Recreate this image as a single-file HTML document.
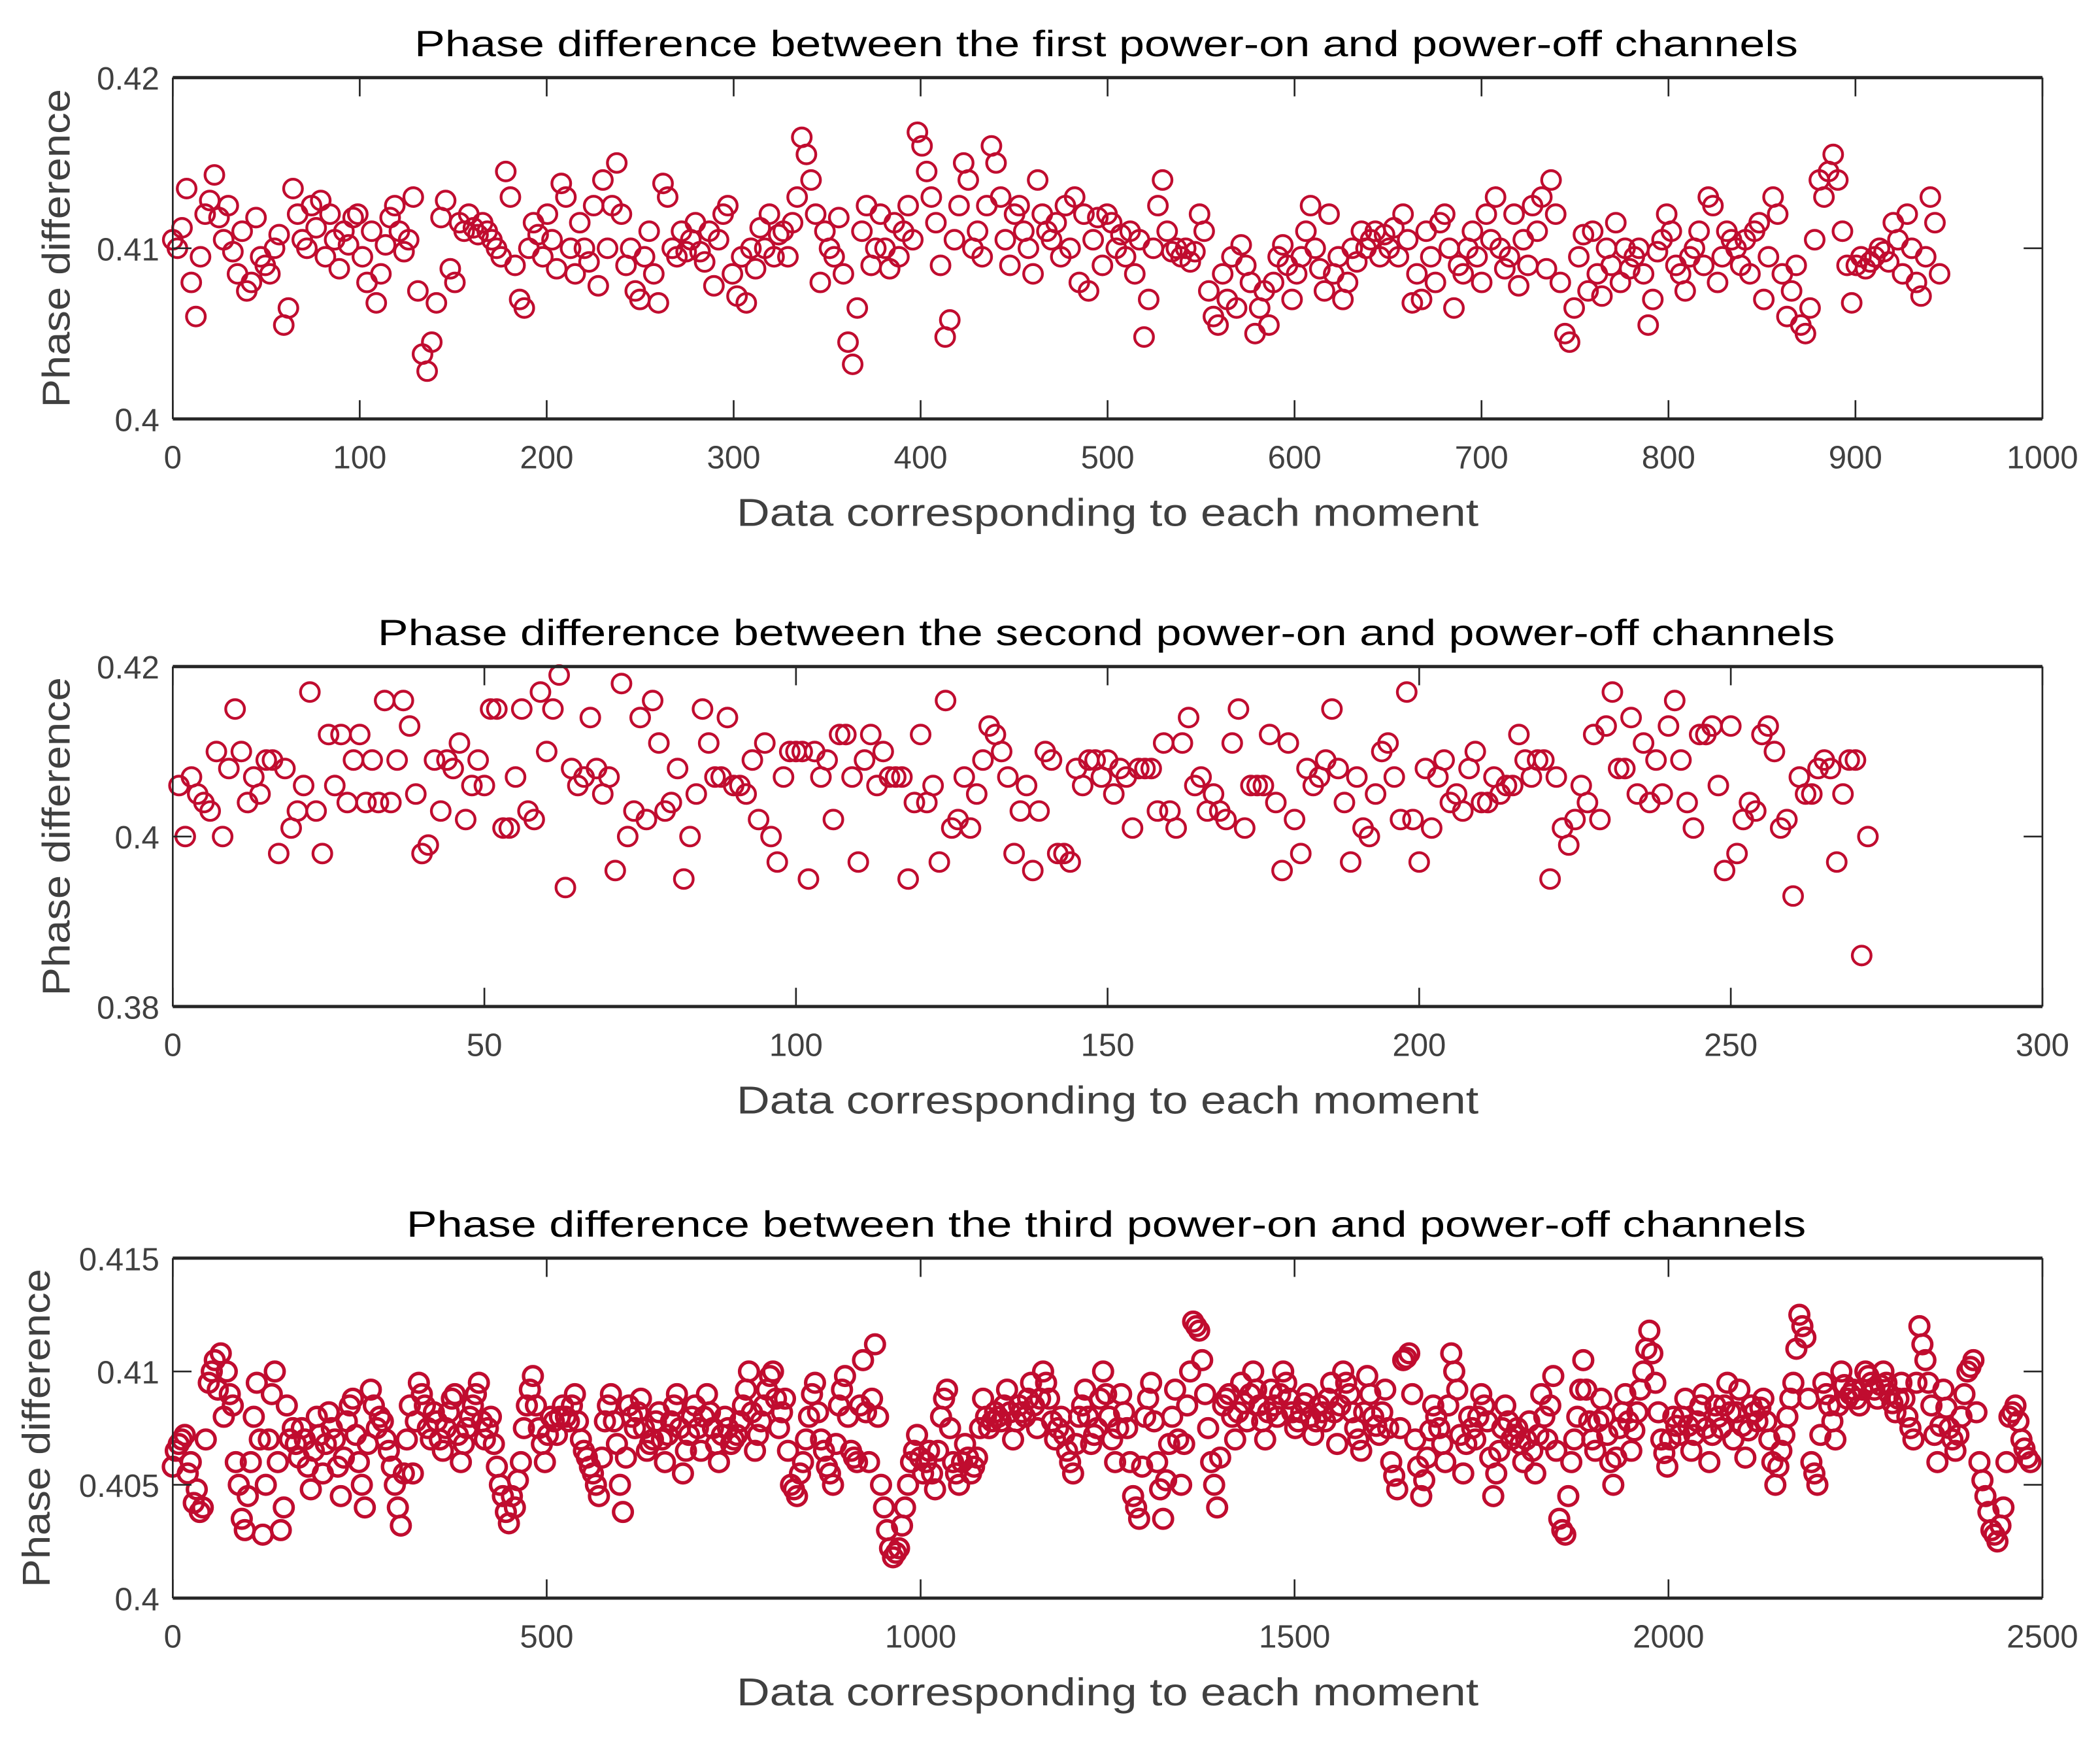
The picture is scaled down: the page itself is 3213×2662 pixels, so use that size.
<!DOCTYPE html>
<html><head><meta charset="utf-8"><style>
html,body{margin:0;padding:0;background:#fff}
svg{display:block}
text{font-family:"Liberation Sans",Arial,sans-serif}
</style></head><body>
<svg id="fig" xmlns="http://www.w3.org/2000/svg" width="3213" height="2662" viewBox="0 0 1568 1300" preserveAspectRatio="none">
<rect x="0" y="0" width="1568" height="1300" fill="#fff"/>
</svg>
<script>
// ---------- data ----------
const p1Vals=[.4105,.4100,.4112,.4135,.4080,.4060,.4095,.4120,.4128,.4143,.4118,.4105,.4125,.4098,.4085,.4110,.4075,.4080,.4118,.4095,.4090,.4085,.4100,.4108,.4055,.4065,.4135,.4120,.4105,.4100,.4125,.4112,.4128,.4095,.4120,.4105,.4088,.4110,.4102,.4118,.4120,.4095,.4080,.4110,.4068,.4085,.4102,.4118,.4125,.4110,.4098,.4105,.4130,.4075,.4038,.4028,.4045,.4068,.4118,.4128,.4088,.4080,.4115,.4110,.4120,.4112,.4108,.4115,.4110,.4105,.4100,.4095,.4145,.4130,.4090,.4070,.4065,.4100,.4115,.4108,.4095,.4120,.4105,.4088,.4138,.4130,.4100,.4085,.4115,.4100,.4092,.4125,.4078,.4140,.4100,.4125,.4150,.4120,.4090,.4100,.4075,.4070,.4095,.4110,.4085,.4068,.4138,.4130,.4100,.4095,.4110,.4098,.4105,.4115,.4098,.4092,.4110,.4078,.4105,.4120,.4125,.4085,.4072,.4095,.4068,.4100,.4088,.4112,.4100,.4120,.4095,.4108,.4110,.4095,.4115,.4130,.4165,.4155,.4140,.4120,.4080,.4110,.4100,.4095,.4118,.4085,.4045,.4032,.4065,.4110,.4125,.4090,.4100,.4120,.4100,.4088,.4115,.4095,.4110,.4125,.4105,.4168,.4160,.4145,.4130,.4115,.4090,.4048,.4058,.4105,.4125,.4150,.4140,.4100,.4110,.4095,.4125,.4160,.4150,.4130,.4105,.4090,.4120,.4125,.4110,.4100,.4085,.4140,.4120,.4110,.4105,.4115,.4095,.4125,.4100,.4130,.4080,.4120,.4075,.4105,.4118,.4090,.4120,.4115,.4100,.4108,.4095,.4110,.4085,.4105,.4048,.4070,.4100,.4125,.4140,.4110,.4098,.4100,.4095,.4100,.4092,.4098,.4120,.4110,.4075,.4060,.4055,.4085,.4070,.4095,.4065,.4102,.4090,.4080,.4050,.4065,.4075,.4055,.4080,.4095,.4102,.4090,.4070,.4085,.4095,.4110,.4125,.4100,.4088,.4075,.4120,.4085,.4095,.4070,.4080,.4100,.4092,.4110,.4100,.4105,.4110,.4095,.4108,.4100,.4112,.4095,.4120,.4105,.4068,.4085,.4070,.4110,.4095,.4080,.4115,.4120,.4100,.4065,.4090,.4085,.4100,.4110,.4095,.4080,.4120,.4105,.4130,.4100,.4088,.4095,.4120,.4078,.4105,.4090,.4125,.4110,.4130,.4088,.4140,.4120,.4080,.4050,.4045,.4065,.4095,.4108,.4075,.4110,.4085,.4072,.4100,.4090,.4115,.4080,.4100,.4088,.4095,.4100,.4085,.4055,.4070,.4098,.4105,.4120,.4110,.4090,.4085,.4075,.4095,.4100,.4110,.4090,.4130,.4125,.4080,.4095,.4110,.4105,.4100,.4090,.4105,.4085,.4110,.4115,.4070,.4095,.4130,.4120,.4085,.4060,.4075,.4090,.4055,.4050,.4065,.4105,.4140,.4130,.4145,.4155,.4140,.4110,.4090,.4068,.4090,.4095,.4088,.4092,.4095,.4100,.4098,.4092,.4115,.4105,.4085,.4120,.4100,.4080,.4072,.4095,.4130,.4115,.4085];
const p1LastIndex=945;

const p2Vals=[.406,.400,.407,.405,.404,.403,.410,.400,.408,.415,.410,.404,.407,.405,.409,.409,.398,.408,.401,.403,.406,.417,.403,.398,.412,.406,.412,.404,.409,.412,.404,.409,.404,.416,.404,.409,.416,.413,.405,.398,.399,.409,.403,.409,.408,.411,.402,.406,.409,.406,.415,.415,.401,.401,.407,.415,.403,.402,.417,.410,.415,.419,.394,.408,.406,.407,.414,.408,.405,.407,.396,.418,.400,.403,.414,.402,.416,.411,.403,.404,.408,.395,.400,.405,.415,.411,.407,.407,.414,.406,.406,.405,.409,.402,.411,.400,.397,.407,.410,.410,.410,.395,.410,.407,.409,.402,.412,.412,.407,.397,.409,.412,.406,.410,.407,.407,.407,.395,.404,.412,.404,.406,.397,.416,.401,.402,.407,.401,.405,.409,.413,.412,.410,.407,.398,.403,.406,.396,.403,.410,.409,.398,.398,.397,.408,.406,.409,.409,.407,.409,.405,.408,.407,.401,.408,.408,.408,.403,.411,.403,.401,.411,.414,.406,.407,.403,.405,.403,.402,.411,.415,.401,.406,.406,.406,.412,.404,.396,.411,.402,.398,.408,.406,.407,.409,.415,.408,.404,.397,.407,.401,.400,.405,.410,.411,.407,.402,.417,.402,.397,.408,.401,.407,.409,.404,.405,.403,.408,.410,.404,.404,.407,.405,.406,.406,.412,.409,.407,.409,.409,.395,.407,.401,.399,.402,.406,.404,.412,.402,.413,.417,.408,.408,.414,.405,.411,.404,.409,.405,.413,.416,.409,.404,.401,.412,.412,.413,.406,.396,.413,.398,.402,.404,.403,.412,.413,.410,.401,.402,.393,.407,.405,.405,.408,.409,.408,.397,.405,.409,.409,.386,.400];
const p2FirstIndex=1;

const p3Vals=[.4058,.4068,.4072,.4060,.4048,.4040,.4095,.4105,.4108,.4100,.4085,.4050,.4030,.4060,.4095,.4028,.4070,.4100,.4030,.4085,.4075,.4062,.4070,.4048,.4080,.4055,.4082,.4070,.4045,.4078,.4088,.4060,.4040,.4092,.4075,.4078,.4065,.4050,.4032,.4070,.4055,.4095,.4085,.4070,.4078,.4065,.4082,.4090,.4060,.4075,.4085,.4095,.4070,.4080,.4058,.4045,.4033,.4040,.4060,.4085,.4098,.4075,.4060,.4080,.4072,.4085,.4078,.4090,.4070,.4062,.4055,.4045,.4078,.4090,.4068,.4038,.4085,.4075,.4088,.4065,.4070,.4082,.4060,.4078,.4090,.4055,.4072,.4085,.4065,.4090,.4075,.4060,.4080,.4068,.4072,.4085,.4100,.4065,.4078,.4092,.4100,.4075,.4088,.4050,.4045,.4060,.4080,.4095,.4070,.4058,.4050,.4085,.4098,.4065,.4060,.4105,.4060,.4112,.4050,.4030,.4018,.4022,.4040,.4060,.4072,.4055,.4065,.4048,.4080,.4092,.4060,.4050,.4068,.4055,.4062,.4088,.4075,.4082,.4078,.4092,.4070,.4085,.4080,.4095,.4075,.4100,.4088,.4070,.4080,.4065,.4055,.4080,.4092,.4068,.4075,.4100,.4080,.4060,.4090,.4075,.4045,.4035,.4080,.4095,.4060,.4035,.4068,.4092,.4050,.4085,.4122,.4118,.4090,.4060,.4040,.4085,.4090,.4070,.4095,.4078,.4100,.4085,.4070,.4092,.4080,.4100,.4088,.4075,.4082,.4090,.4072,.4085,.4078,.4095,.4068,.4100,.4090,.4075,.4065,.4098,.4080,.4072,.4092,.4060,.4048,.4105,.4108,.4070,.4045,.4062,.4085,.4075,.4060,.4108,.4092,.4055,.4080,.4070,.4090,.4078,.4045,.4065,.4085,.4070,.4075,.4060,.4078,.4055,.4090,.4070,.4098,.4035,.4028,.4060,.4080,.4105,.4078,.4065,.4088,.4072,.4050,.4075,.4090,.4065,.4082,.4100,.4118,.4095,.4070,.4058,.4080,.4072,.4088,.4065,.4078,.4090,.4060,.4085,.4075,.4095,.4070,.4092,.4062,.4085,.4078,.4088,.4070,.4050,.4065,.4080,.4095,.4125,.4115,.4060,.4050,.4095,.4085,.4070,.4100,.4088,.4092,.4085,.4100,.4095,.4088,.4100,.4090,.4082,.4095,.4080,.4070,.4120,.4105,.4085,.4060,.4092,.4075,.4065,.4080,.4100,.4105,.4060,.4045,.4030,.4025,.4040,.4080,.4085,.4070,.4062];
// readings at the samples lying between those of p3Vals
const p3ValsB=[.4065,.4070,.4055,.4042,.4038,.4070,.4100,.4092,.4080,.4090,.4060,.4035,.4045,.4080,.4070,.4050,.4090,.4060,.4040,.4070,.4068,.4075,.4058,.4065,.4072,.4068,.4075,.4058,.4062,.4085,.4072,.4050,.4068,.4085,.4080,.4070,.4058,.4040,.4055,.4085,.4078,.4090,.4075,.4082,.4070,.4075,.4088,.4072,.4068,.4080,.4090,.4078,.4075,.4068,.4050,.4038,.4045,.4052,.4075,.4092,.4085,.4068,.4072,.4078,.4080,.4080,.4085,.4078,.4065,.4058,.4050,.4062,.4085,.4078,.4050,.4062,.4080,.4082,.4075,.4068,.4078,.4070,.4072,.4085,.4075,.4065,.4080,.4075,.4080,.4082,.4068,.4072,.4075,.4070,.4078,.4092,.4082,.4072,.4085,.4098,.4088,.4082,.4065,.4048,.4055,.4070,.4090,.4082,.4065,.4055,.4068,.4092,.4080,.4062,.4085,.4082,.4088,.4080,.4040,.4022,.4020,.4032,.4050,.4065,.4062,.4060,.4055,.4065,.4088,.4075,.4055,.4060,.4062,.4058,.4075,.4080,.4078,.4080,.4085,.4082,.4078,.4082,.4088,.4085,.4088,.4095,.4078,.4075,.4072,.4060,.4068,.4085,.4080,.4072,.4088,.4090,.4070,.4075,.4082,.4060,.4040,.4058,.4088,.4078,.4048,.4052,.4080,.4070,.4068,.4100,.4120,.4105,.4075,.4050,.4062,.4088,.4080,.4082,.4086,.4090,.4092,.4078,.4082,.4085,.4090,.4095,.4082,.4078,.4086,.4080,.4078,.4082,.4088,.4082,.4085,.4095,.4082,.4070,.4082,.4090,.4076,.4082,.4075,.4054,.4075,.4106,.4090,.4058,.4052,.4074,.4080,.4068,.4085,.4100,.4072,.4068,.4075,.4080,.4085,.4062,.4055,.4075,.4078,.4072,.4068,.4070,.4065,.4072,.4080,.4085,.4065,.4030,.4045,.4070,.4092,.4092,.4070,.4078,.4080,.4060,.4062,.4082,.4078,.4074,.4092,.4110,.4108,.4082,.4064,.4070,.4076,.4080,.4076,.4072,.4085,.4075,.4072,.4080,.4085,.4082,.4082,.4076,.4074,.4082,.4084,.4078,.4060,.4058,.4072,.4088,.4110,.4120,.4088,.4055,.4072,.4090,.4078,.4085,.4094,.4090,.4088,.4092,.4098,.4092,.4094,.4095,.4086,.4088,.4088,.4075,.4095,.4112,.4095,.4072,.4076,.4084,.4070,.4072,.4090,.4102,.4082,.4052,.4038,.4028,.4032,.4060,.4082,.4078,.4066,.4060];
const p3LastIndex=2480;

const p1XTicks=[0,100,200,300,400,500,600,700,800,900,1000];
const p1YTicks=[0.40,0.41,0.42];
const p1YTickLabels=["0.4","0.41","0.42"];
const p2XTicks=[0,50,100,150,200,250,300];
const p2YTicks=[0.38,0.40,0.42];
const p2YTickLabels=["0.38","0.4","0.42"];
const p3XTicks=[0,500,1000,1500,2000,2500];
const p3YTicks=[0.400,0.405,0.410,0.415];
const p3YTickLabels=["0.4","0.405","0.41","0.415"];

// ---------- drawing ----------
const NS="http://www.w3.org/2000/svg";
const svg=document.getElementById('fig');
function mk(tag,attrs,parent){const e=document.createElementNS(NS,tag);for(const k in attrs)e.setAttribute(k,attrs[k]);(parent||svg).appendChild(e);return e;}
const L=129,R=1525;

function drawPanel(cfg){
  const g=mk('g',{});
  
  
  const sx=v=>L+(v-cfg.xmin)/(cfg.xmax-cfg.xmin)*(R-L);
  const sy=v=>cfg.bot-(v-cfg.ymin)/(cfg.ymax-cfg.ymin)*(cfg.bot-cfg.top);
  const t=mk('text',{x:826,y:cfg.top-16,'text-anchor':'middle','font-size':27,fill:'#000',textLength:cfg.titleLen,lengthAdjust:'spacingAndGlyphs'},g);
  t.textContent=cfg.title;
  
  
  const pg=mk('g',{fill:'none',stroke:'#c00c2f','stroke-width':cfg.sw},g);
  
  
  cfg.series.forEach(s=>{
    s.vals.forEach((v,i)=>{
      const xi=s.xOf(i);
      const c=mk('circle',{cx:sx(xi),cy:sy(v),r:7},pg);
      
      
    });
  });
  const ax=mk('g',{stroke:'#262626',fill:'none'},g);
  
  
  mk('line',{x1:L,y1:cfg.top,x2:R,y2:cfg.top,'stroke-width':2.4},ax);
  mk('line',{x1:L,y1:cfg.bot,x2:R,y2:cfg.bot,'stroke-width':2.4},ax);
  mk('line',{x1:L,y1:cfg.top,x2:L,y2:cfg.bot,'stroke-width':1.3},ax);
  mk('line',{x1:R,y1:cfg.top,x2:R,y2:cfg.bot,'stroke-width':1.3},ax);
  cfg.xTicks.forEach(v=>{
    const x=sx(v);
    mk('line',{x1:x,y1:cfg.bot,x2:x,y2:cfg.bot-14,'stroke-width':1.3},ax);
    mk('line',{x1:x,y1:cfg.top,x2:x,y2:cfg.top+14,'stroke-width':1.3},ax);
    const tl=mk('text',{x:x,y:cfg.bot+37,'text-anchor':'middle','font-size':24,fill:'#404040'},g);
    tl.textContent=String(v);
    
    
  });
  cfg.yTicks.forEach((v,i)=>{
    const y=sy(v);
    mk('line',{x1:L,y1:y,x2:L+14,y2:y,'stroke-width':1.3},ax);
    mk('line',{x1:R,y1:y,x2:R-14,y2:y,'stroke-width':1.3},ax);
    const tl=mk('text',{x:119,y:y+9,'text-anchor':'end','font-size':24,fill:'#404040'},g);
    tl.textContent=cfg.yLabels[i];
    
    
  });
  const xl=mk('text',{x:827,y:cfg.bot+80,'text-anchor':'middle','font-size':29,fill:'#404040',textLength:554,lengthAdjust:'spacingAndGlyphs'},g);
  xl.textContent='Data corresponding to each moment';
  
  
  const yc=(cfg.top+cfg.bot)/2;
  const yl=mk('text',{x:cfg.ylx,y:yc,'text-anchor':'middle','font-size':29,fill:'#404040',transform:`rotate(-90 ${cfg.ylx} ${yc})`,textLength:238,lengthAdjust:'spacingAndGlyphs'},g);
  yl.textContent='Phase difference';
  
  
}

const p1Step=p1LastIndex/(p1Vals.length-1);
const p3Step=p3LastIndex/(p3Vals.length-1);
drawPanel({name:'panel-first-channel',title:'Phase difference between the first power-on and power-off channels',titleLen:1033,
  top:58,bot:313,xmin:0,xmax:1000,ymin:0.40,ymax:0.42,
  series:[{vals:p1Vals,xOf:i=>i*p1Step}],xTicks:p1XTicks,yTicks:p1YTicks,yLabels:p1YTickLabels,ylx:52,sw:2.1});
drawPanel({name:'panel-second-channel',title:'Phase difference between the second power-on and power-off channels',titleLen:1088,
  top:498,bot:752,xmin:0,xmax:300,ymin:0.38,ymax:0.42,
  series:[{vals:p2Vals,xOf:i=>i+p2FirstIndex}],xTicks:p2XTicks,yTicks:p2YTicks,yLabels:p2YTickLabels,ylx:52,sw:2.1});
drawPanel({name:'panel-third-channel',title:'Phase difference between the third power-on and power-off channels',titleLen:1045,
  top:940,bot:1194,xmin:0,xmax:2500,ymin:0.400,ymax:0.415,
  series:[{vals:p3Vals,xOf:i=>i*p3Step},{vals:p3ValsB,xOf:i=>(i+0.5)*p3Step}],xTicks:p3XTicks,yTicks:p3YTicks,yLabels:p3YTickLabels,ylx:37,sw:2.6});
</script>
</body></html>
